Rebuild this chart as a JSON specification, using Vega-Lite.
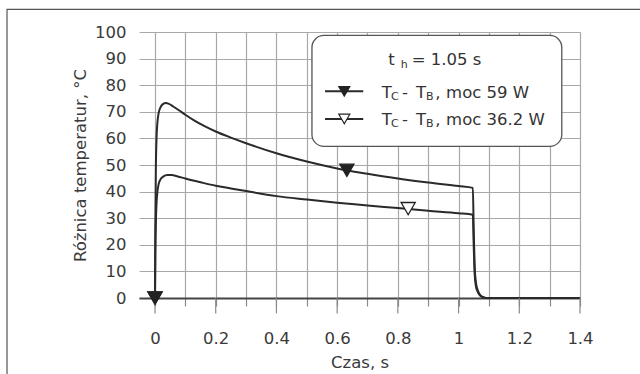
{
  "$schema": "https://vega.github.io/schema/vega-lite/v6.json",
  "width": 441,
  "height": 266,
  "autosize": {"type": "none"},
  "padding": {"left": 139, "top": 32, "right": 60, "bottom": 76},
  "background": "white",
  "config": {
    "view": {"stroke": null},
    "axis": {"labelFont": "DejaVu Sans", "titleFont": "DejaVu Sans", "labelFontSize": 16.5, "titleFontSize": 16.5, "titleFontWeight": "normal", "labelColor": "#3a3a3a", "titleColor": "#3a3a3a", "gridColor": "#a8a8a8", "gridWidth": 1.2},
    "axisX": {"labelOverlap": false, "labelFlush": false, "labelBound": false, "grid": true, "ticks": true, "tickSize": 8, "tickColor": "#8a8a8a", "tickWidth": 1.2, "domain": true, "domainColor": "#444444", "domainWidth": 2, "labelPadding": 24, "titlePadding": 8},
    "axisY": {"grid": true, "ticks": false, "domain": false, "labelPadding": 13, "titlePadding": 6}
  },
  "datasets": {
    "curves": [
      {"series": "59 W", "t": 0, "dT": 0}, {"series": "59 W", "t": 0.001, "dT": 25}, {"series": "59 W", "t": 0.003, "dT": 50}, {"series": "59 W", "t": 0.005, "dT": 60}, {"series": "59 W", "t": 0.008, "dT": 66}, {"series": "59 W", "t": 0.012, "dT": 69.5}, {"series": "59 W", "t": 0.018, "dT": 71.7}, {"series": "59 W", "t": 0.026, "dT": 72.9}, {"series": "59 W", "t": 0.036, "dT": 73.3}, {"series": "59 W", "t": 0.046, "dT": 73.0}, {"series": "59 W", "t": 0.06, "dT": 72.0}, {"series": "59 W", "t": 0.08, "dT": 70.5}, {"series": "59 W", "t": 0.1, "dT": 68.9}, {"series": "59 W", "t": 0.13, "dT": 66.7}, {"series": "59 W", "t": 0.16, "dT": 64.8}, {"series": "59 W", "t": 0.2, "dT": 62.6}, {"series": "59 W", "t": 0.25, "dT": 60.3}, {"series": "59 W", "t": 0.3, "dT": 58.2}, {"series": "59 W", "t": 0.4, "dT": 54.4}, {"series": "59 W", "t": 0.5, "dT": 51.3}, {"series": "59 W", "t": 0.6, "dT": 48.7}, {"series": "59 W", "t": 0.7, "dT": 46.7}, {"series": "59 W", "t": 0.8, "dT": 44.9}, {"series": "59 W", "t": 0.9, "dT": 43.4}, {"series": "59 W", "t": 1.0, "dT": 42.1}, {"series": "59 W", "t": 1.047, "dT": 41.4}, {"series": "59 W", "t": 1.05, "dT": 25}, {"series": "59 W", "t": 1.053, "dT": 12}, {"series": "59 W", "t": 1.057, "dT": 6}, {"series": "59 W", "t": 1.063, "dT": 3}, {"series": "59 W", "t": 1.07, "dT": 1.3}, {"series": "59 W", "t": 1.08, "dT": 0.4}, {"series": "59 W", "t": 1.09, "dT": 0}, {"series": "59 W", "t": 1.4, "dT": 0},
      {"series": "36.2 W", "t": 0, "dT": 0}, {"series": "36.2 W", "t": 0.001, "dT": 15}, {"series": "36.2 W", "t": 0.003, "dT": 29}, {"series": "36.2 W", "t": 0.005, "dT": 35.5}, {"series": "36.2 W", "t": 0.008, "dT": 40}, {"series": "36.2 W", "t": 0.012, "dT": 42.8}, {"series": "36.2 W", "t": 0.018, "dT": 44.6}, {"series": "36.2 W", "t": 0.028, "dT": 45.7}, {"series": "36.2 W", "t": 0.04, "dT": 46.2}, {"series": "36.2 W", "t": 0.055, "dT": 46.2}, {"series": "36.2 W", "t": 0.075, "dT": 45.7}, {"series": "36.2 W", "t": 0.1, "dT": 44.9}, {"series": "36.2 W", "t": 0.15, "dT": 43.5}, {"series": "36.2 W", "t": 0.2, "dT": 42.2}, {"series": "36.2 W", "t": 0.25, "dT": 41.2}, {"series": "36.2 W", "t": 0.3, "dT": 40.2}, {"series": "36.2 W", "t": 0.4, "dT": 38.3}, {"series": "36.2 W", "t": 0.5, "dT": 37}, {"series": "36.2 W", "t": 0.6, "dT": 35.8}, {"series": "36.2 W", "t": 0.7, "dT": 34.8}, {"series": "36.2 W", "t": 0.8, "dT": 33.8}, {"series": "36.2 W", "t": 0.9, "dT": 32.8}, {"series": "36.2 W", "t": 1.0, "dT": 31.9}, {"series": "36.2 W", "t": 1.047, "dT": 31.3}, {"series": "36.2 W", "t": 1.05, "dT": 19}, {"series": "36.2 W", "t": 1.053, "dT": 9}, {"series": "36.2 W", "t": 1.057, "dT": 4.5}, {"series": "36.2 W", "t": 1.063, "dT": 2.3}, {"series": "36.2 W", "t": 1.07, "dT": 1}, {"series": "36.2 W", "t": 1.08, "dT": 0.3}, {"series": "36.2 W", "t": 1.09, "dT": 0}, {"series": "36.2 W", "t": 1.4, "dT": 0}
    ],
    "markers": [
      {"series": "36.2 W", "t": 0, "dT": 0},
      {"series": "36.2 W", "t": 0.834, "dT": 33.6},
      {"series": "59 W", "t": 0, "dT": 0},
      {"series": "59 W", "t": 0.632, "dT": 48.0}
    ],
    "majorTicks": [{"t": 0}, {"t": 0.2}, {"t": 0.4}, {"t": 0.6}, {"t": 0.8}, {"t": 1.0}, {"t": 1.2}, {"t": 1.4}],
    "legendItems": [
      {"series": "59 W", "x1": 0.56, "x2": 0.686, "xm": 0.6236, "y": 77.7},
      {"series": "36.2 W", "x1": 0.56, "x2": 0.686, "xm": 0.6236, "y": 67.3}
    ],
    "legendText": [
      {"text": "t", "role": "main", "x": 0.7685, "y": 87.6},
      {"text": "h", "role": "sub", "x": 0.8094, "y": 86.3},
      {"text": "= 1.05 s", "role": "main", "x": 0.8456, "y": 87.6},
      {"text": "T", "role": "main", "x": 0.7468, "y": 75.24},
      {"text": "C", "role": "sub", "x": 0.7774, "y": 74.4},
      {"text": "-", "role": "main", "x": 0.8136, "y": 75.24},
      {"text": "T", "role": "main", "x": 0.8598, "y": 75.24},
      {"text": "B", "role": "sub", "x": 0.893, "y": 74.4},
      {"text": ",", "role": "main", "x": 0.923, "y": 75.24},
      {"text": "moc 59 W", "role": "main", "x": 0.959, "y": 75.24},
      {"text": "T", "role": "main", "x": 0.7468, "y": 65.18},
      {"text": "C", "role": "sub", "x": 0.7774, "y": 64.4},
      {"text": "-", "role": "main", "x": 0.8136, "y": 65.18},
      {"text": "T", "role": "main", "x": 0.8598, "y": 65.18},
      {"text": "B", "role": "sub", "x": 0.893, "y": 64.4},
      {"text": ",", "role": "main", "x": 0.923, "y": 65.18},
      {"text": "moc 36.2 W", "role": "main", "x": 0.959, "y": 65.18}
    ]
  },
  "layer": [
    {
      "data": {"name": "curves"},
      "mark": {"type": "line", "interpolate": "monotone", "stroke": "#2a2a2a", "strokeWidth": 2},
      "encoding": {
        "x": {
          "field": "t", "type": "quantitative", "scale": {"domain": [-0.0527, 1.4]},
          "axis": {"values": [0, 0.1, 0.2, 0.3, 0.4, 0.5, 0.6, 0.7, 0.8, 0.9, 1.0, 1.1, 1.2, 1.3, 1.4], "format": ".1~f", "labelExpr": "round(datum.value*10) % 2 == 0 ? datum.label : ''", "title": "Czas, s"}
        },
        "y": {
          "field": "dT", "type": "quantitative", "scale": {"domain": [0, 100]},
          "axis": {"values": [0, 10, 20, 30, 40, 50, 60, 70, 80, 90, 100], "title": "Różnica temperatur, °C"}
        },
        "detail": {"field": "series"}
      }
    },
    {
      "data": {"values": [{}]},
      "mark": {"type": "rect", "fill": "white", "fillOpacity": 0, "stroke": "#555555", "strokeWidth": 1.2},
      "encoding": {
        "x": {"datum": -0.4875, "type": "quantitative", "scale": {"domain": [-0.0527, 1.4]},
          "axis": {"values": [0, 0.1, 0.2, 0.3, 0.4, 0.5, 0.6, 0.7, 0.8, 0.9, 1.0, 1.1, 1.2, 1.3, 1.4], "format": ".1~f", "labelExpr": "round(datum.value*10) % 2 == 0 ? datum.label : ''", "title": "Czas, s"}},
        "x2": {"datum": 2.5},
        "y": {"datum": 108.5, "type": "quantitative", "scale": {"domain": [0, 100]},
          "axis": {"values": [0, 10, 20, 30, 40, 50, 60, 70, 80, 90, 100], "title": "Różnica temperatur, °C"}},
        "y2": {"datum": -60}
      }
    },
    {
      "data": {"name": "majorTicks"},
      "mark": {"type": "rule", "color": "#8a8a8a", "strokeWidth": 1.2},
      "encoding": {
        "x": {"field": "t", "type": "quantitative", "scale": {"domain": [-0.0527, 1.4]},
          "axis": {"values": [0, 0.1, 0.2, 0.3, 0.4, 0.5, 0.6, 0.7, 0.8, 0.9, 1.0, 1.1, 1.2, 1.3, 1.4], "format": ".1~f", "labelExpr": "round(datum.value*10) % 2 == 0 ? datum.label : ''", "title": "Czas, s"}},
        "y": {"datum": 0, "type": "quantitative", "scale": {"domain": [0, 100]},
          "axis": {"values": [0, 10, 20, 30, 40, 50, 60, 70, 80, 90, 100], "title": "Różnica temperatur, °C"}},
        "y2": {"datum": -5.8}
      }
    },
    {
      "data": {"name": "markers"},
      "mark": {"type": "point", "shape": "triangle-down", "size": 200, "filled": true, "stroke": "#222222", "strokeWidth": 1.3, "opacity": 1},
      "encoding": {
        "x": {"field": "t", "type": "quantitative", "scale": {"domain": [-0.0527, 1.4]},
          "axis": {"values": [0, 0.1, 0.2, 0.3, 0.4, 0.5, 0.6, 0.7, 0.8, 0.9, 1.0, 1.1, 1.2, 1.3, 1.4], "format": ".1~f", "labelExpr": "round(datum.value*10) % 2 == 0 ? datum.label : ''", "title": "Czas, s"}},
        "y": {"field": "dT", "type": "quantitative", "scale": {"domain": [0, 100]},
          "axis": {"values": [0, 10, 20, 30, 40, 50, 60, 70, 80, 90, 100], "title": "Różnica temperatur, °C"}},
        "fill": {"field": "series", "type": "nominal", "scale": {"domain": ["59 W", "36.2 W"], "range": ["#222222", "#ffffff"]}, "legend": null}
      }
    },
    {
      "data": {"values": [{}]},
      "mark": {"type": "rect", "fill": "white", "stroke": "#555555", "strokeWidth": 1.3, "cornerRadius": 12},
      "encoding": {
        "x": {"datum": 0.517, "type": "quantitative", "scale": {"domain": [-0.0527, 1.4]},
          "axis": {"values": [0, 0.1, 0.2, 0.3, 0.4, 0.5, 0.6, 0.7, 0.8, 0.9, 1.0, 1.1, 1.2, 1.3, 1.4], "format": ".1~f", "labelExpr": "round(datum.value*10) % 2 == 0 ? datum.label : ''", "title": "Czas, s"}},
        "x2": {"datum": 1.34},
        "y": {"datum": 98.7, "type": "quantitative", "scale": {"domain": [0, 100]},
          "axis": {"values": [0, 10, 20, 30, 40, 50, 60, 70, 80, 90, 100], "title": "Różnica temperatur, °C"}},
        "y2": {"datum": 57.0}
      }
    },
    {
      "data": {"name": "legendItems"},
      "mark": {"type": "rule", "color": "#2a2a2a", "strokeWidth": 2},
      "encoding": {
        "x": {"field": "x1", "type": "quantitative", "scale": {"domain": [-0.0527, 1.4]},
          "axis": {"values": [0, 0.1, 0.2, 0.3, 0.4, 0.5, 0.6, 0.7, 0.8, 0.9, 1.0, 1.1, 1.2, 1.3, 1.4], "format": ".1~f", "labelExpr": "round(datum.value*10) % 2 == 0 ? datum.label : ''", "title": "Czas, s"}},
        "x2": {"field": "x2"},
        "y": {"field": "y", "type": "quantitative", "scale": {"domain": [0, 100]},
          "axis": {"values": [0, 10, 20, 30, 40, 50, 60, 70, 80, 90, 100], "title": "Różnica temperatur, °C"}}
      }
    },
    {
      "data": {"name": "legendItems"},
      "mark": {"type": "point", "shape": "triangle-down", "size": 121, "filled": true, "stroke": "#222222", "strokeWidth": 1.2, "opacity": 1},
      "encoding": {
        "x": {"field": "xm", "type": "quantitative", "scale": {"domain": [-0.0527, 1.4]},
          "axis": {"values": [0, 0.1, 0.2, 0.3, 0.4, 0.5, 0.6, 0.7, 0.8, 0.9, 1.0, 1.1, 1.2, 1.3, 1.4], "format": ".1~f", "labelExpr": "round(datum.value*10) % 2 == 0 ? datum.label : ''", "title": "Czas, s"}},
        "y": {"field": "y", "type": "quantitative", "scale": {"domain": [0, 100]},
          "axis": {"values": [0, 10, 20, 30, 40, 50, 60, 70, 80, 90, 100], "title": "Różnica temperatur, °C"}},
        "fill": {"field": "series", "type": "nominal", "scale": {"domain": ["59 W", "36.2 W"], "range": ["#222222", "#ffffff"]}, "legend": null}
      }
    },
    {
      "data": {"name": "legendText"},
      "mark": {"type": "text", "align": "left", "baseline": "alphabetic", "font": "DejaVu Sans", "color": "#333333"},
      "encoding": {
        "x": {"field": "x", "type": "quantitative", "scale": {"domain": [-0.0527, 1.4]},
          "axis": {"values": [0, 0.1, 0.2, 0.3, 0.4, 0.5, 0.6, 0.7, 0.8, 0.9, 1.0, 1.1, 1.2, 1.3, 1.4], "format": ".1~f", "labelExpr": "round(datum.value*10) % 2 == 0 ? datum.label : ''", "title": "Czas, s"}},
        "y": {"field": "y", "type": "quantitative", "scale": {"domain": [0, 100]},
          "axis": {"values": [0, 10, 20, 30, 40, 50, 60, 70, 80, 90, 100], "title": "Różnica temperatur, °C"}},
        "text": {"field": "text"},
        "size": {"field": "role", "type": "ordinal", "scale": {"domain": ["main", "sub"], "range": [16.5, 11]}, "legend": null}
      }
    }
  ]
}
